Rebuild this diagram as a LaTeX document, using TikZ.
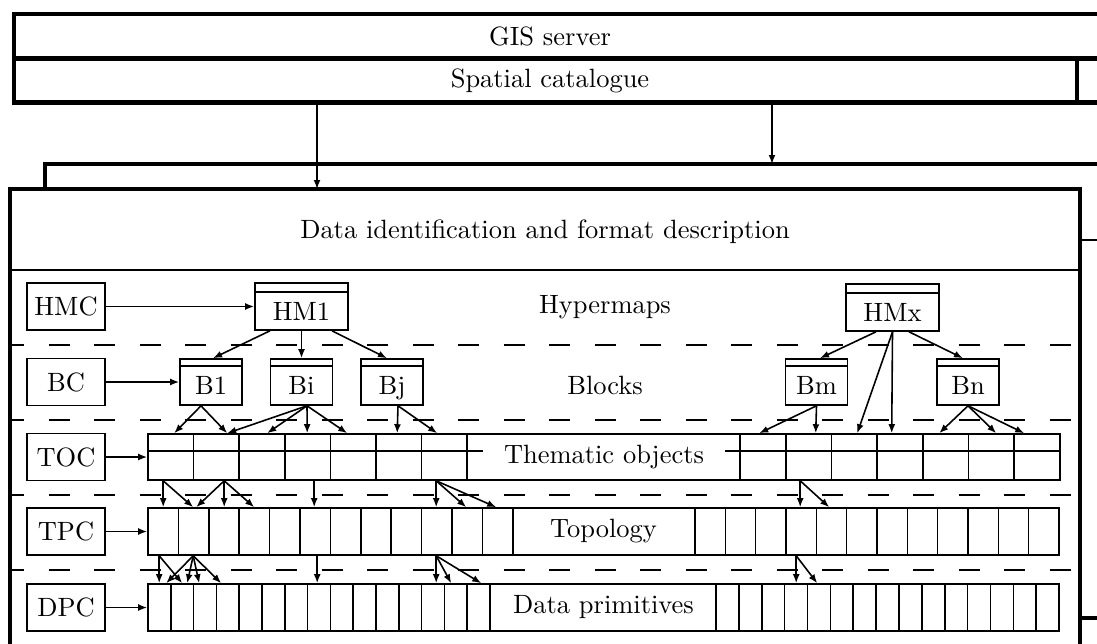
\documentclass[tikz,border=0pt]{standalone}
\usetikzlibrary{arrows.meta,calc}
\begin{document}
\begin{tikzpicture}[x=0.378pt,y=-0.378pt,
  heavy/.style={line width=1.7pt},
  fine/.style={line width=0.6pt},
  arr/.style={fine,-{Latex[length=3.4pt,width=2.6pt]}},
  dsh/.style={fine,dash pattern=on 7.9pt off 9.3pt,dash phase=2.6pt},
  lab/.style={draw,fine,minimum width={78*0.378pt},minimum height={47*0.378pt},inner sep=0pt},
  hmbox/.style={draw,fine,minimum width={93*0.378pt},minimum height={47*0.378pt},inner sep=0pt,text height=10.6pt,text depth=0pt},
  blk/.style={draw,fine,minimum width={62*0.378pt},minimum height={46*0.378pt},inner sep=0pt,text height=9.8pt,text depth=0pt},
  row/.style={draw,fine,minimum width={911*0.378pt},inner sep=0pt}]
\useasboundingbox (0,0) rectangle (1097,643);
\clip (0,0) rectangle (1097,643);
% top boxes
\draw[heavy] (1110,14) -- (14,14) -- (14,102.5) -- (1110,102.5);
\draw[heavy] (14,58.5) -- (1110,58.5);
\draw[heavy] (1077,58.5) -- (1077,102.5);
\node (gis) at (550,36) {GIS server};
\node (sc) at (550,81) {Spatial catalogue};
% back box
\draw[heavy] (45,189) -- (45,164) -- (1110,164);
% main box
\draw[heavy] (10,660) -- (10,189) -- (1080,189) -- (1080,660);
\draw[fine] (1080,240) -- (1110,240);
\draw[heavy] (1080,618) -- (1110,618);
\draw[fine] (10,270) -- (1080,270);
\node (did) at (545,232) {Data identification and format description};
\coordinate (sc1) at (317,102.5);
\coordinate (main1) at (317,189);
\coordinate (sc2) at (772,102.5);
\coordinate (back1) at (772,164);
\draw[arr] (sc1) -- (main1);
\draw[arr] (sc2) -- (back1);
% dashed separators
\foreach \yy in {345,420,495,570} \draw[dsh] (10,\yy) -- (1080,\yy);
% layer titles
\node (hyp) at (605,307) {Hypermaps};
\node (blocks) at (605,385) {Blocks};
% label boxes
\node[lab] (hmc) at (66,306.5) {HMC};
\node[lab] (bc) at (66,382) {BC};
\node[lab] (toc) at (66,457) {TOC};
\node[lab] (tpc) at (66,531.5) {TPC};
\node[lab] (dpc) at (66,607.5) {DPC};
% hypermaps
\node[hmbox] (hm1) at (301.5,306.5) {HM1};
\node[hmbox] (hmx) at (892.5,307.5) {HMx};
\foreach \n in {hm1,hmx} \draw[fine] ($(\n.north west)+(0,10)$) -- ($(\n.north east)+(0,10)$);
% blocks
\node[blk] (b1) at (211,382) {B1};
\node[blk] (bi) at (301.5,382) {Bi};
\node[blk] (bj) at (392,382) {Bj};
\node[blk] (bm) at (816.5,382) {Bm};
\node[blk] (bn) at (968,382) {Bn};
\foreach \n in {b1,bi,bj,bm,bn} \draw[fine] ($(\n.north west)+(0,8)$) -- ($(\n.north east)+(0,8)$);
% rows
\node[row,minimum width={912*0.378pt},minimum height={46*0.378pt}] (to) at (604,457) {Thematic objects};
\node[row,minimum height={47*0.378pt}] (tp) at (603.5,531.5) {Topology};
\node[row,minimum height={47*0.378pt}] (dp) at (603.5,607.5) {Data primitives};
% cells
\foreach \k in {1,...,7} \draw[fine] ({148+45.6*\k},434) -- ++(0,46);
\foreach \k in {0,...,6} \draw[fine] ({740+45.7*\k},434) -- ++(0,46);
\draw[fine] (148,451) -- (483,451);
\draw[fine] (725,451) -- (1060,451);
\foreach \k in {1,...,12} \draw[fine] ({148+30.4*\k},508) -- ++(0,47);
\foreach \k in {0,...,11} \draw[fine] ({695+30.33*\k},508) -- ++(0,47);
\foreach \k in {1,...,15} \draw[fine] ({148+22.8*\k},584) -- ++(0,47);
\foreach \k in {0,...,14} \draw[fine] ({716+22.87*\k},584) -- ++(0,47);
% class arrows
\draw[arr] (hmc) -- (hm1);
\draw[arr] (bc) -- (b1);
\draw[arr] (toc) -- (to);
\draw[arr] (tpc) -- (tp);
\draw[arr] (dpc) -- (dp);
% hypermap to block arrows
\draw[arr] ($(hm1.south)+(-31.5,0)$) -- ($(b1.north)+(2,0)$);
\draw[arr] (hm1.south) -- (bi.north);
\draw[arr] ($(hm1.south)+(30.5,0)$) -- ($(bj.north)+(-5,0)$);
\draw[arr] ($(hmx.south)+(-16.5,0)$) -- ($(bm.north)+(3.5,0)$);
\draw[arr] ($(hmx.south)+(16.5,0)$) -- ($(bn.north)+(-5,0)$);
\draw[arr] (hmx.south) -- ($(to.north west)+(710,0)$);
\draw[arr] (hmx.south) -- ($(to.north west)+(744.5,0)$);
% block to thematic object arrows
\foreach \n/\s/\t in {b1/-10/27, b1/-10/80, bi/5.5/80, bi/5.5/120, bi/5.5/160, bi/5.5/200,
  bj/6/250, bj/6/290, bm/0/612, bm/0/668.5, bn/0/792, bn/0/849, bn/0/877}
  \draw[arr] ($(\n.south)+(\s,0)$) -- ($(to.north west)+(\t,0)$);
% thematic objects to topology
\foreach \s/\t in {16/16, 16/46, 77/49, 77/77, 77/107, 167/167, 289/289, 289/319, 289/349, 653/653, 653/682}
  \draw[arr] ($(to.south west)+(\s,0)$) -- ($(tp.north west)+(\t,0)$);
% topology to data primitives
\foreach \s/\t in {12/12, 12/35, 46/19, 46/40, 46/52, 46/74, 170/170, 289/289, 289/304, 289/334, 649/649, 649/670}
  \draw[arr] ($(tp.south west)+(\s,0)$) -- ($(dp.north west)+(\t,0)$);
\end{tikzpicture}
\end{document}
